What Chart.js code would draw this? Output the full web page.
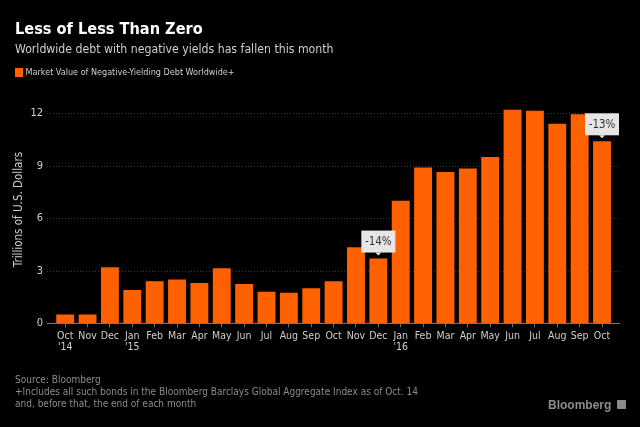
<!DOCTYPE html>
<html>
<head>
<meta charset="utf-8">
<script src="https://cdn.jsdelivr.net/npm/chart.js@4"></script>
<style>
  html, body { margin: 0; padding: 0; background: #000; }
  #wrap { position: relative; width: 640px; height: 427px; background: #000; overflow: hidden; }
  #c { position: absolute; left: 0; top: 0; }
  .t { position: absolute; white-space: nowrap; line-height: 1; font-family: "DejaVu Sans Condensed", "DejaVu Sans", sans-serif; }
  #title { left: 15px; top: 21.3px; font-size: 16.2px; font-weight: bold; color: #fff; }
  #sub { left: 15px; top: 43px; font-size: 12.2px; color: #cfcfcf; }
  #legbox { position: absolute; left: 15px; top: 68px; width: 8px; height: 9px; background: #ff6100; }
  #leg { left: 25.5px; top: 68.4px; font-size: 9px; color: #cfcfcf; }
  #foot { left: 15px; top: 373.8px; font-size: 10px; color: #8c8c8c; line-height: 12px; }
  #logo { left: 548px; top: 398.8px; font-size: 12px; font-weight: bold; color: #8c8c8c; font-family: "Liberation Sans", sans-serif; }
  #icon { position: absolute; left: 617px; top: 400px; width: 9px; height: 9px; background: #8c8c8c; border-radius: 1px; }
</style>
</head>
<body>
<div id="wrap">
  <canvas id="c" width="640" height="427"></canvas>
  <div class="t" id="title">Less of Less Than Zero</div>
  <div class="t" id="sub">Worldwide debt with negative yields has fallen this month</div>
  <div id="legbox"></div>
  <div class="t" id="leg">Market Value of Negative-Yielding Debt Worldwide+</div>
  <div class="t" id="foot">Source: Bloomberg<br>+Includes all such bonds in the Bloomberg Barclays Global Aggregate Index as of Oct. 14<br>and, before that, the end of each month</div>
  <div class="t" id="logo">Bloomberg</div>
  <div id="icon"></div>
</div>
<script>
const months = ['Oct','Nov','Dec','Jan','Feb','Mar','Apr','May','Jun','Jul','Aug','Sep',
                'Oct','Nov','Dec','Jan','Feb','Mar','Apr','May','Jun','Jul','Aug','Sep','Oct'];
const yearMarks = ["'14",'','',"'15",'','','','','','','','','','','',"'16",'','','','','','','','',''];
const values = [0.5, 0.5, 3.2, 1.9, 2.4, 2.5, 2.3, 3.15, 2.25, 1.8, 1.75, 2.0,
                2.4, 4.35, 3.7, 7.0, 8.9, 8.65, 8.85, 9.5, 12.2, 12.15, 11.4, 11.95, 10.4];
const yTicks = [0, 3, 6, 9, 12];
const callouts = [{ index: 14, text: '-14%' }, { index: 24, text: '-13%' }];
const seriesName = 'Market Value of Negative-Yielding Debt Worldwide+';
const yTitle = 'Trillions of U.S. Dollars';

const labels = months.map((m, i) => yearMarks[i] ? [m, yearMarks[i]] : m);
const FONT = '"DejaVu Sans Condensed", "DejaVu Sans", sans-serif';

const gridPlugin = {
  id: 'customGrid',
  beforeDatasetsDraw(chart) {
    const { ctx, chartArea, scales } = chart;
    const y = scales.y;
    const x0 = chartArea.left - 7, x1 = chartArea.right + 7;
    ctx.save();
    ctx.lineWidth = 1;
    yTicks.forEach(v => {
      const py = Math.round(y.getPixelForValue(v)) + 0.5;
      if (v === 0) return;
      ctx.strokeStyle = '#3a3a3a';
      ctx.setLineDash([1, 2]);
      ctx.beginPath(); ctx.moveTo(x0, py); ctx.lineTo(x1, py); ctx.stroke();
    });
    ctx.restore();
  },
  afterDatasetsDraw(chart) {
    const { ctx, chartArea, scales } = chart;
    const y = scales.y;
    const x0 = chartArea.left - 7, x1 = chartArea.right + 7;
    const py = Math.round(y.getPixelForValue(0)) + 0.5;
    ctx.save();
    ctx.strokeStyle = '#777';
    ctx.lineWidth = 1;
    ctx.beginPath(); ctx.moveTo(x0, py); ctx.lineTo(x1, py); ctx.stroke();
    const meta = chart.getDatasetMeta(0);
    ctx.font = '11.5px ' + FONT;
    callouts.forEach(c => {
      const bar = meta.data[c.index];
      const w = 34, h = 22;
      const bx = bar.x - w / 2;
      const by = bar.y - 6 - h;
      ctx.fillStyle = '#e6e6e6';
      ctx.fillRect(bx, by, w, h);
      ctx.beginPath();
      ctx.moveTo(bar.x - 3, by + h);
      ctx.lineTo(bar.x + 3, by + h);
      ctx.lineTo(bar.x, by + h + 3);
      ctx.closePath();
      ctx.fill();
      ctx.fillStyle = '#333';
      ctx.textAlign = 'center';
      ctx.textBaseline = 'middle';
      ctx.fillText(c.text, bar.x, by + h / 2 + 0.5);
    });
    ctx.restore();
  }
};

new Chart(document.getElementById('c'), {
  type: 'bar',
  data: {
    labels: labels,
    datasets: [{
      label: seriesName,
      data: values,
      backgroundColor: '#ff6100',
      borderWidth: 0,
      categoryPercentage: 1,
      barPercentage: 0.8
    }]
  },
  options: {
    responsive: false,
    animation: false,
    devicePixelRatio: 1,
    layout: { padding: { left: 0, right: 26.8, top: 95.8, bottom: 73.7 } },
    plugins: { legend: { display: false }, tooltip: { enabled: false }, title: { display: false } },
    scales: {
      x: {
        type: 'category',
        offset: true,
        grid: { offset: false, drawOnChartArea: false, drawTicks: true, tickLength: 4, color: '#777' },
        border: { display: false },
        ticks: { color: '#cfcfcf', font: { family: FONT, size: 10.5, lineHeight: 1.0 }, padding: 4, maxRotation: 0, autoSkip: false },
        afterFit(s) { s.height = 30; }
      },
      y: {
        min: 0, max: 13,
        grid: { display: false, drawTicks: false },
        border: { display: false },
        ticks: { stepSize: 3, color: '#cfcfcf', font: { family: FONT, size: 11 }, padding: 11 },
        afterBuildTicks(s) { s.ticks = yTicks.map(v => ({ value: v })); },
        afterFit(s) { s.width = 54; },
        title: { display: true, text: yTitle, color: '#cfcfcf', font: { family: FONT, size: 11.5 }, padding: { top: 12.5, bottom: 0 } }
      }
    }
  },
  plugins: [gridPlugin]
});
</script>
</body>
</html>
